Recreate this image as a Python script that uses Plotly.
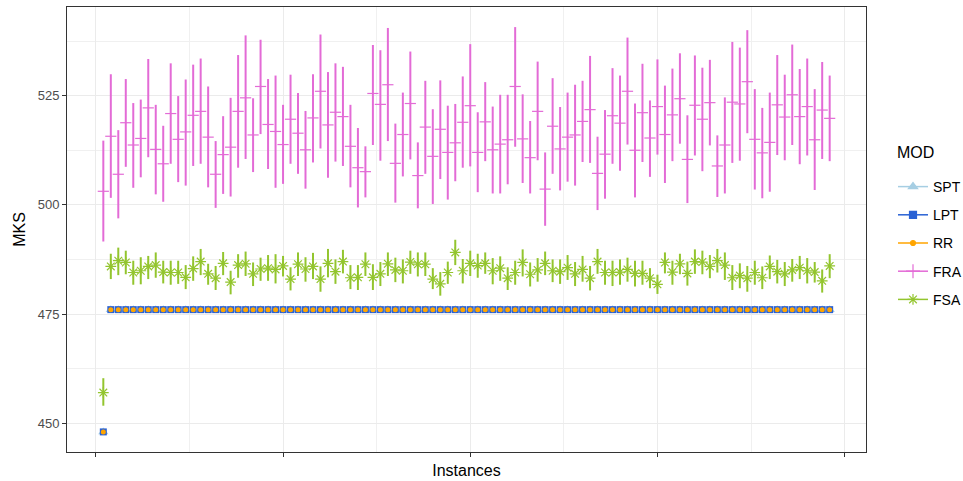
import plotly.graph_objects as go

instances = list(range(1, 99))

spt = [448] + [476] * 97
lpt = [448] + [476] * 97
rr = [448] + [476] * 97

fra_mean = [503.1, 515.7, 507.0, 518.8, 513.7, 515.2, 522.2, 512.7, 509.4, 520.9,
            515.0, 516.7, 520.5, 521.4, 515.5, 507.0, 511.5, 513.2, 521.4, 524.5,
            516.0, 527.1, 518.4, 516.8, 513.8, 519.6, 516.4, 512.6, 519.9, 526.0,
            518.3, 521.2, 520.2, 513.4, 508.5, 507.6, 525.5, 523.0, 527.5, 509.5,
            516.1, 523.2, 506.7, 517.8, 511.1, 517.3, 512.0, 514.2, 518.9, 522.7,
            512.0, 519.0, 512.6, 513.9, 514.9, 527.1, 515.1, 510.8, 521.4, 503.6,
            518.0, 512.8, 515.5, 516.0, 519.1, 521.8, 507.2, 511.6, 520.4, 518.7,
            526.0, 512.5, 521.1, 515.3, 522.5, 516.1, 520.6, 524.3, 510.4, 522.8,
            519.6, 523.4, 508.9, 513.7, 523.5, 523.1, 528.2, 515.0, 511.9, 514.3,
            522.9, 520.1, 525.2, 520.2, 522.5, 514.9, 521.7, 519.8]
fra_lo = [491.6, 501.6, 496.9, 508.7, 503.9, 506.3, 510.9, 502.4, 500.7, 509.4,
          505.2, 504.4, 508.9, 509.4, 504.0, 499.3, 502.5, 501.9, 508.5, 510.5,
          507.5, 516.2, 508.2, 503.9, 504.8, 509.4, 507.1, 503.7, 509.7, 512.9,
          506.2, 509.9, 508.9, 504.0, 499.4, 501.7, 513.7, 510.1, 514.6, 500.5,
          506.5, 510.4, 499.2, 507.1, 500.2, 505.9, 501.2, 505.4, 508.5, 508.8,
          502.9, 510.0, 502.6, 502.6, 504.7, 513.3, 505.0, 502.6, 510.2, 495.2,
          507.1, 503.3, 505.3, 504.4, 509.8, 509.6, 498.8, 501.4, 509.4, 507.8,
          513.8, 501.7, 509.8, 506.4, 511.5, 505.0, 510.0, 514.0, 500.4, 511.3,
          507.7, 513.6, 501.8, 502.6, 509.6, 510.1, 516.4, 503.5, 501.5, 503.0,
          511.4, 510.2, 513.7, 509.3, 511.3, 503.4, 510.5, 510.0]
fra_hi = [514.7, 529.9, 517.1, 528.8, 523.3, 524.1, 533.4, 522.9, 518.1, 532.4,
          524.9, 528.7, 532.1, 533.5, 527.1, 514.6, 520.3, 524.5, 534.3, 538.8,
          524.4, 537.8, 528.8, 529.6, 522.9, 529.8, 525.6, 521.5, 529.9, 539.0,
          530.4, 532.4, 531.6, 522.9, 517.6, 513.4, 536.6, 535.4, 540.5, 518.6,
          525.7, 535.1, 514.3, 528.4, 521.9, 528.5, 522.7, 523.1, 529.4, 536.8,
          521.2, 528.1, 522.5, 525.2, 525.2, 540.7, 525.3, 519.2, 532.8, 512.0,
          529.0, 522.4, 525.7, 527.5, 528.4, 534.1, 515.6, 521.7, 531.3, 529.6,
          538.3, 523.2, 532.3, 523.9, 533.3, 527.3, 531.2, 534.7, 520.5, 534.2,
          531.4, 533.2, 515.9, 524.6, 537.3, 536.0, 540.0, 526.5, 522.2, 525.7,
          534.3, 529.8, 536.7, 531.1, 533.5, 526.5, 532.7, 529.6]

fsa_mean = [457.0, 485.9, 487.2, 486.8, 484.5, 484.9, 485.9, 486.2, 484.6, 484.5,
            484.5, 483.4, 485.4, 487.0, 484.2, 483.2, 486.6, 482.3, 486.2, 486.5,
            484.2, 485.3, 485.5, 485.2, 486.0, 483.0, 486.4, 485.3, 485.9, 483.0,
            486.6, 484.7, 487.0, 483.3, 483.4, 486.4, 483.4, 484.2, 486.5, 485.1,
            484.9, 486.9, 486.4, 486.4, 483.0, 481.9, 484.5, 489.1, 484.9, 486.6,
            486.1, 486.6, 484.9, 485.5, 483.2, 484.5, 486.8, 484.1, 485.1, 486.6,
            484.9, 484.7, 485.6, 484.2, 485.2, 483.2, 487.0, 484.5, 484.5, 484.6,
            485.2, 484.3, 484.3, 483.2, 481.8, 486.8, 484.6, 486.5, 484.3, 487.0,
            486.9, 485.9, 487.2, 486.2, 483.3, 483.8, 483.2, 484.5, 483.3, 485.9,
            484.7, 484.2, 485.1, 485.6, 484.9, 484.6, 482.6, 486.0]
fsa_lo = [454.0, 483.0, 483.9, 484.1, 481.7, 481.8, 483.0, 483.3, 482.0, 481.7,
          481.9, 480.7, 482.6, 483.9, 481.7, 480.5, 483.9, 479.5, 483.3, 483.7,
          481.4, 482.6, 482.6, 482.0, 483.6, 480.4, 483.7, 482.4, 483.0, 480.1,
          483.4, 481.9, 484.3, 480.7, 480.5, 483.7, 480.5, 481.4, 483.7, 482.3,
          482.0, 484.2, 483.6, 483.7, 480.7, 479.2, 481.9, 486.2, 482.0, 483.7,
          483.3, 484.2, 481.8, 482.6, 480.5, 481.7, 483.6, 481.3, 482.4, 483.9,
          482.3, 481.9, 482.8, 481.4, 482.4, 480.4, 484.2, 481.7, 481.4, 481.7,
          482.4, 481.3, 481.7, 480.9, 479.6, 484.3, 481.7, 484.1, 481.5, 484.2,
          484.1, 483.2, 484.5, 482.8, 480.5, 480.9, 480.1, 481.7, 480.7, 483.0,
          482.0, 481.4, 482.4, 483.0, 482.0, 482.2, 479.9, 483.2]
fsa_hi = [460.3, 488.8, 490.2, 489.5, 487.2, 488.0, 488.3, 489.1, 487.2, 487.2,
          487.2, 486.2, 488.2, 489.9, 486.5, 486.0, 489.2, 484.9, 488.7, 489.3,
          486.8, 487.9, 488.5, 488.7, 488.3, 485.7, 489.1, 488.0, 489.0, 485.9,
          489.9, 487.5, 489.7, 486.2, 486.2, 489.1, 486.4, 486.9, 489.1, 487.9,
          487.5, 489.5, 489.1, 489.1, 485.5, 484.6, 487.0, 492.0, 487.6, 489.5,
          488.8, 489.1, 487.8, 488.2, 485.7, 487.2, 489.8, 486.8, 487.8, 489.3,
          487.5, 487.5, 488.5, 486.9, 488.3, 486.0, 489.9, 487.2, 487.2, 487.5,
          487.9, 487.2, 487.2, 485.5, 484.0, 489.1, 487.2, 488.8, 487.0, 489.8,
          489.5, 488.5, 489.9, 489.1, 486.2, 486.6, 486.0, 487.2, 485.9, 488.4,
          487.4, 486.9, 487.6, 488.3, 487.8, 486.9, 485.2, 488.7]

x_ticks = [0, 25, 50, 75, 100]
y_ticks = [450, 475, 500, 525]

C_SPT = "#A6CEE3"
C_LPT = "#2A62D4"
C_RR = "#FFA500"
C_FRA = "#E36BD6"
C_FSA = "#93C52E"

fig = go.Figure()

# FRA with error bars
fig.add_trace(go.Scatter(
    x=instances, y=fra_mean, mode="markers", showlegend=False,
    marker=dict(symbol="line-ew", size=8, line=dict(color=C_FRA, width=1.2), color=C_FRA),
    error_y=dict(type="data", symmetric=False,
                 array=[h - m for h, m in zip(fra_hi, fra_mean)],
                 arrayminus=[m - l for m, l in zip(fra_mean, fra_lo)],
                 width=0, thickness=2, color=C_FRA),
))
# FSA with error bars
fig.add_trace(go.Scatter(
    x=instances, y=fsa_mean, mode="markers", showlegend=False,
    marker=dict(symbol="asterisk-open", size=9, line=dict(color=C_FSA, width=1.2), color=C_FSA),
    error_y=dict(type="data", symmetric=False,
                 array=[h - m for h, m in zip(fsa_hi, fsa_mean)],
                 arrayminus=[m - l for m, l in zip(fsa_mean, fsa_lo)],
                 width=0, thickness=2, color=C_FSA),
))
# SPT / LPT / RR
fig.add_trace(go.Scatter(x=instances, y=spt, mode="markers", showlegend=False,
                         marker=dict(symbol="triangle-up", size=9, color=C_SPT, line=dict(width=0))))
fig.add_trace(go.Scatter(x=instances, y=lpt, mode="markers", showlegend=False,
                         marker=dict(symbol="square", size=7, color=C_LPT, line=dict(width=0))))
fig.add_trace(go.Scatter(x=instances, y=rr, mode="markers", showlegend=False,
                         marker=dict(symbol="circle", size=5, color=C_RR, line=dict(width=0))))

# legend entries
legend_specs = [
    ("SPT", C_SPT, "triangle-up", 8),
    ("LPT", C_LPT, "square", 7),
    ("RR", C_RR, "circle", 5),
    ("FRA", C_FRA, "cross-thin-open", 10),
    ("FSA", C_FSA, "asterisk-open", 9),
]
for name, col, sym, sz in legend_specs:
    fig.add_trace(go.Scatter(
        x=[None], y=[None], mode="lines+markers", name=name, legendgroup=name,
        line=dict(color=col, width=1.5),
        marker=dict(symbol=sym, size=sz, color=col, line=dict(color=col, width=1.2)),
    ))

axis_common = dict(
    showline=True, linecolor="#333333", linewidth=1, mirror=True,
    showgrid=True, gridcolor="#EBEBEB", gridwidth=1.1,
    zeroline=False, ticks="outside", ticklen=4, tickcolor="#333333", tickwidth=1,
)

fig.update_layout(
    width=963, height=481,
    margin=dict(l=67, r=97, t=7, b=29),
    paper_bgcolor="white", plot_bgcolor="white",
    font=dict(family="Liberation Sans, Arial, sans-serif", color="#000000"),
    xaxis=dict(
        range=[-3.85, 102.85], tickvals=x_ticks, ticktext=["" for _ in x_ticks],
        title=dict(text="Instances", font=dict(size=16), standoff=6),
        minor=dict(dtick=12.5, tick0=0, showgrid=True, gridcolor="#F0F0F0", gridwidth=1, ticks=""),
        **axis_common,
    ),
    yaxis=dict(
        range=[443.4, 545.3], tickvals=y_ticks,
        tickfont=dict(size=13, color="#4D4D4D"),
        title=dict(text="MKS", font=dict(size=16), standoff=8),
        minor=dict(dtick=12.5, tick0=450, showgrid=True, gridcolor="#F0F0F0", gridwidth=1, ticks=""),
        **axis_common,
    ),
    legend=dict(
        font=dict(size=14),
        xref="container", yref="container",
        x=893 / 963, xanchor="left", y=1 - 171 / 481, yanchor="top",
        traceorder="grouped", tracegroupgap=7,
        bgcolor="rgba(0,0,0,0)",
    ),
    annotations=[dict(
        text="MOD", xref="paper", yref="paper",
        x=(895 - 67) / 799, y=(452 - 152) / 445, xanchor="left", yanchor="middle",
        showarrow=False, font=dict(size=16),
    )],
)

fig.write_html("out.html", config={"displayModeBar": False},
               post_script="document.body.style.margin='0';document.body.style.overflow='hidden';")
